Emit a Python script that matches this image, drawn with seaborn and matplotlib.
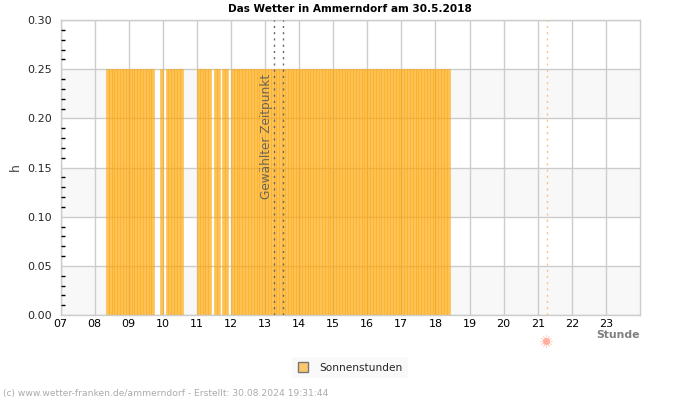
import matplotlib
matplotlib.use('Agg')
import matplotlib.pyplot as plt
from matplotlib.patches import Patch
from matplotlib.ticker import MultipleLocator
import pandas as pd
import seaborn as sns

## Data ##

# Start of every 5 minute slot with sunshine
sun_slots = [
    '08:20', '08:25', '08:30', '08:35', '08:40', '08:45', '08:50', '08:55',
    '09:00', '09:05', '09:10', '09:15', '09:20', '09:25', '09:30', '09:35', '09:40',
    '09:55',
    '10:05', '10:10', '10:15', '10:20', '10:25', '10:30',
    '11:00', '11:05', '11:10', '11:15', '11:20',
    '11:30', '11:35',
    '11:45', '11:50',
    '12:00', '12:05', '12:10', '12:15', '12:20', '12:25', '12:30', '12:35', '12:40', '12:45', '12:50', '12:55',
    '13:00', '13:05', '13:10', '13:15', '13:20', '13:25', '13:30', '13:35', '13:40', '13:45', '13:50', '13:55',
    '14:00', '14:05', '14:10', '14:15', '14:20', '14:25', '14:30', '14:35', '14:40', '14:45', '14:50', '14:55',
    '15:00', '15:05', '15:10', '15:15', '15:20', '15:25', '15:30', '15:35', '15:40', '15:45', '15:50', '15:55',
    '16:00', '16:05', '16:10', '16:15', '16:20', '16:25', '16:30', '16:35', '16:40', '16:45', '16:50', '16:55',
    '17:00', '17:05', '17:10', '17:15', '17:20', '17:25', '17:30', '17:35', '17:40', '17:45', '17:50', '17:55',
    '18:00', '18:05', '18:10', '18:15', '18:20',
]
sun_value = 0.25

# Slots reported with no sun, these stay white in the original
empty_slots = [(9.75, 9.917), (10.0, 10.083), (11.417, 11.5), (11.667, 11.75), (11.917, 12.0)]

hour_labels = ['07', '08', '09', '10', '11', '12', '13', '14', '15', '16', '17', '18', '19', '20', '21', '22', '23']
hour_ticks = [7, 8, 9, 10, 11, 12, 13, 14, 15, 16, 17, 18, 19, 20, 21, 22, 23]
y_ticks = [0.00, 0.05, 0.10, 0.15, 0.20, 0.25, 0.30]
grey_bands = [(0.00, 0.05), (0.10, 0.15), (0.20, 0.25)]
selected_times = [13.275, 13.52]
sunset_time = 21.27

## Plot ##

sns.set_style('white')
plt.rcParams['font.family'] = ['DejaVu Sans']

fig = plt.figure(figsize=(7, 4), dpi=100)
ax = fig.add_axes([60.5 / 700, 85 / 400, 579.5 / 700, 295 / 400])

df = pd.DataFrame({'slot': sun_slots})
# bars are centred, so shift by half a slot
df['hour'] = pd.to_datetime(df['slot'], format='%H:%M').map(lambda t: t.hour + (t.minute + 2.5) / 60)
df['h'] = sun_value

for low, high in grey_bands:
    ax.axhspan(low, high, color='#f8f8f8', lw=0, zorder=0)
for start, end in empty_slots:
    ax.axvspan(start, end, color='white', lw=0, zorder=0.5)

# grid by hand so the ticks can stay on top of the bars
for t in hour_ticks:
    ax.axvline(t, color='#cccccc', lw=1, zorder=1)
for v in y_ticks:
    ax.axhline(v, color='#cccccc', lw=1, zorder=1)

sns.barplot(data=df, x='hour', y='h', native_scale=True, width=1, errorbar=None, ax=ax,
            color='#ffa500', saturation=1, alpha=0.65, edgecolor='#ffa500', linewidth=0.4, zorder=2)

ax.grid(False)
ax.set_axisbelow(False)
ax.set_xlim(7, 24)
ax.set_ylim(0, 0.30)
ax.set_xticks(hour_ticks)
ax.set_xticklabels(hour_labels)
ax.set_yticks(y_ticks)
ax.set_yticklabels([f'{v:.2f}' for v in y_ticks])
ax.yaxis.set_minor_locator(MultipleLocator(0.01))
ax.tick_params(axis='x', direction='in', length=5, width=1, color='black', labelsize=8, pad=3, labelcolor='black')
ax.tick_params(axis='y', which='major', direction='in', length=0, labelsize=8, pad=6)
ax.tick_params(axis='y', which='minor', direction='in', length=3, width=1, color='black', left=True)
ax.set_xlabel('')
ax.set_ylabel('h', fontsize=9, color='#444444', labelpad=0)
ax.yaxis.set_label_coords(-39 / 579.5, 0.5)
for spine in ax.spines.values():
    spine.set_color('#cccccc')
    spine.set_linewidth(1)

for t in selected_times:
    ax.axvline(t, color='#666666', lw=1, ls=(0, (1.5, 3)), zorder=3)
ax.axvline(sunset_time, color='#f5c48a', lw=1, ls=(0, (1.5, 3)), zorder=3)
ax.text(13.03, 0.182, 'Gewählter Zeitpunkt', rotation=90, ha='center', va='center', fontsize=8.7,
        color='#555555', alpha=0.85, zorder=4)

# Sun symbol below the axis
sun_trans = ax.get_xaxis_transform()
ax.plot([sunset_time - 0.04], [-0.0885], marker=(12, 2, 0), ms=9, mew=0.6, color='#ffd8cc', clip_on=False,
        transform=sun_trans)
ax.plot([sunset_time - 0.04], [-0.0885], marker='o', ms=5, color='#ffb0a0', mew=0, clip_on=False,
        transform=sun_trans)

fig.text(350 / 700, 1 - 9 / 400, 'Das Wetter in Ammerndorf am 30.5.2018', ha='center', va='center',
         fontsize=7.6, fontweight='bold', color='black')
fig.text(639.5 / 700, 1 - 334.5 / 400, 'Stunde', ha='right', va='center', fontsize=7.8, fontweight='bold', color='#808080')
fig.text(3 / 700, 1 - 393.5 / 400, '(c) www.wetter-franken.de/ammerndorf - Erstellt: 30.08.2024 19:31:44',
         ha='left', va='center', fontsize=6.6, color='#aaaaaa')

handle = Patch(facecolor='#fdc76b', edgecolor='#777777', linewidth=1)
leg = fig.legend(handles=[handle], labels=['Sonnenstunden'], loc='center', bbox_to_anchor=(350 / 700, 1 - 367.5 / 400),
                 frameon=True, fontsize=7.6, handlelength=0.95, handleheight=0.95, handletextpad=1.05, borderpad=0.55)
leg.get_frame().set_facecolor('#f8f8f8')
leg.get_frame().set_edgecolor('none')
leg.get_frame().set_boxstyle('square', pad=0)

fig.savefig('out.png', dpi=100)
